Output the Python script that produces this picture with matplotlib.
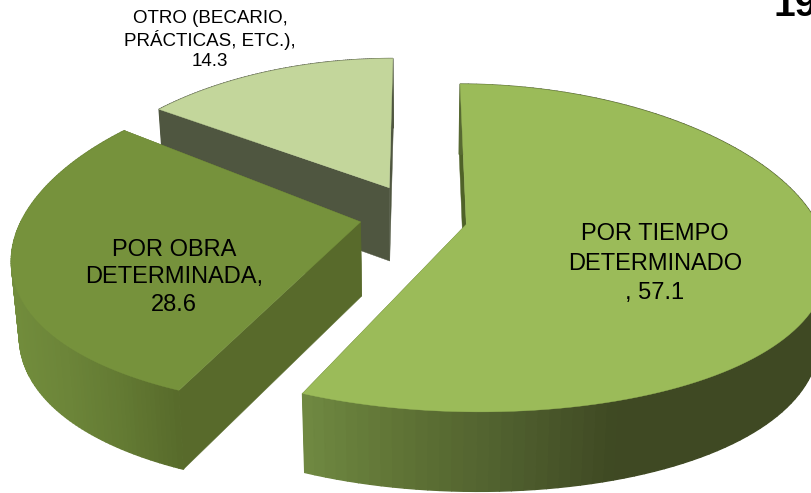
import numpy as np
import matplotlib
matplotlib.use("Agg")
import matplotlib.pyplot as plt
from matplotlib.colors import to_rgb

# chart data
categories = ["POR TIEMPO\nDETERMINADO\n, 57.1", "POR OBRA\nDETERMINADA,\n28.6", "OTRO (BECARIO,\nPRÁCTICAS, ETC.),\n14.3"]
values = [57.1, 28.6, 14.3]

# look of the fake 3d pie, in the order of the values
first_angle = -1.5
top_colors = ["#9BBB59", "#76923C", "#C3D69B"]
face_colors = ["#4F6228", "#586A2B", "#4F5640"]
rim_stops = [["#708A42", "#5F7335", "#4F5F2E", "#3F4923"],
             ["#728D3C", "#6C8539", "#637A33", "#586B2B"],
             ["#4F5640", "#4F5640", "#4F5640", "#4F5640"]]
rim_range = [(304, 620), (10, 180), (150, 400)]
offsets = [(0.15, -0.07), (-0.148, -0.055), (-0.07, 0.16)]
radius_u = [0.99, 0.96, 0.93]
radius_back = [0.96, 1.0, 0.93]
radius_front = [1.0, 1.0, 0.93]
trims = [(2, 0), (0, 0), (-1.5, 1.5)]

cx, cy = 413, 213
rx, ry = 350, 161
px, py = 0.2, 0.125
thick = 74
shrink = 0.98

plt.rcParams["font.family"] = ["Liberation Sans", "DejaVu Sans"]


def project(u, v, low=False):
    x = cx + rx * u / (1 + px * v)
    y = cy - ry * v / (1 + py * v)
    if low:
        x = cx + (x - cx) * shrink
        y = y + thick / np.sqrt(1 + py * v)
    return x, y


def ring_color(stops, t):
    cols = np.array([to_rgb(c) for c in stops])
    pos = np.linspace(0, 1, len(stops))
    return tuple(np.interp(t, pos, cols[:, i]) for i in range(3))


def draw_slice(ax, a0, a1, off, ru, r_back, r_front, top, face, stops, x_range):
    ang = np.radians(np.linspace(a0, a1, 130))
    u = off[0] + ru * np.sin(ang)
    c = np.cos(ang)
    v = off[1] + np.where(c > 0, r_back, r_front) * c

    # the two cut faces
    for i in (0, -1):
        pts = [project(off[0], off[1]), project(u[i], v[i]),
               project(u[i], v[i], True), project(off[0], off[1], True)]
        ax.fill(*zip(*pts), color=face, lw=0.3)

    # outer rim, back pieces first so the front ones stay on top
    order = np.argsort(-v[:-1])
    for k in order:
        pts = [project(u[k], v[k]), project(u[k + 1], v[k + 1]),
               project(u[k + 1], v[k + 1], True), project(u[k], v[k], True)]
        t = (pts[0][0] - x_range[0]) / (x_range[1] - x_range[0])
        ax.fill(*zip(*pts), color=ring_color(stops, t), lw=1)

    # top surface
    xs, ys = project(np.r_[off[0], u], np.r_[off[1], v])
    ax.fill(xs, ys, color=top, lw=0.3)


fig = plt.figure(figsize=(8.12, 4.93), dpi=100)
ax = fig.add_axes([0, 0, 1, 1])
ax.set_xlim(0, 812)
ax.set_ylim(493, 0)
ax.axis("off")

sweeps = np.array(values) / sum(values) * 360
starts = first_angle + np.r_[0, np.cumsum(sweeps)[:-1]]

# back slice first
for i in (2, 1, 0):
    draw_slice(ax, starts[i] + trims[i][0], starts[i] + sweeps[i] + trims[i][1], offsets[i],
               radius_u[i], radius_back[i], radius_front[i], top_colors[i], face_colors[i],
               rim_stops[i], rim_range[i])

ax.text(655, 263.5, categories[0], ha="center", va="center", fontsize=17, linespacing=1.42, color="black")
ax.text(174, 277.5, categories[1], ha="center", va="center", fontsize=17, linespacing=1.34, color="black")
ax.text(210, 40, categories[2], ha="center", va="center", fontsize=13.5, linespacing=1.2, color="black")
ax.text(774, 16, "19", ha="left", va="baseline", fontsize=28, fontweight="bold", color="black", clip_on=True)

fig.savefig("out.png", dpi=100)
plt.close()
